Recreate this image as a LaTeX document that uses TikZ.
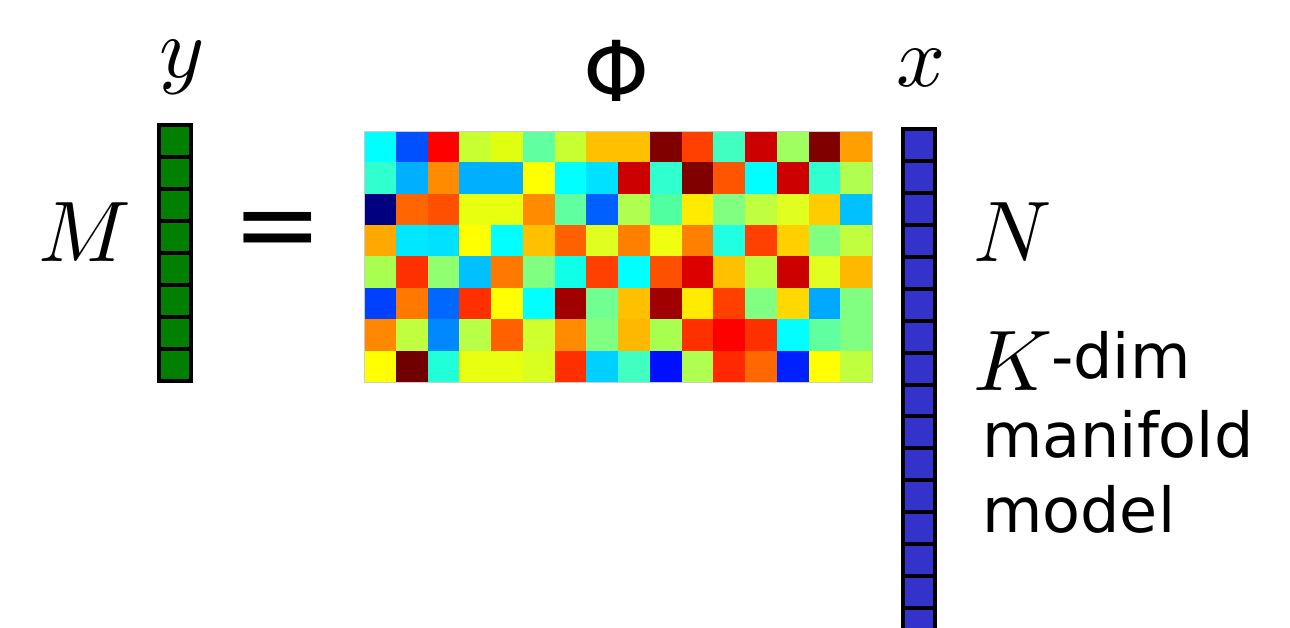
\documentclass[tikz,border=0pt]{standalone}
\usepackage{fontspec}
\newfontfamily\dejavu{DejaVu Sans}
\definecolor{vgreen}{HTML}{007F00}
\definecolor{vblue}{HTML}{3333CC}
\tikzset{
  mathlbl/.style={inner sep=0pt, anchor=base, font=\fontsize{10}{12}\selectfont, scale=8.6},
  sanslbl/.style={inner sep=0pt, anchor=base west, font=\dejavu\fontsize{62}{77}\selectfont},
  cellg/.style={draw=black, line width=4pt, fill=vgreen},
  cellb/.style={draw=black, line width=4pt, fill=vblue},
}
\begin{document}
\begin{tikzpicture}[x=1pt,y=-1pt]
\clip (0,0) rectangle (1290,628);
\fill[white] (0,0) rectangle (1290,628);
% measurement matrix Phi
\coordinate (phiNW) at (364,131);
\coordinate (phiSE) at (872,382);
\foreach \row [count=\r from 0] in {
 {00FFFF,0050FF,FF0000,C8FF30,E0FF10,60FFA0,C8FF30,FFC000,FFC000,800000,FF4000,40FFC0,CC0000,A0FF60,800000,FFA000},
 {30FFD0,00B0FF,FF8C00,00B0FF,00B0FF,FFFF00,00FFFF,00E0FF,CC0000,30FFD0,800000,FF5500,00FFFF,CC0000,30FFD0,B0FF50},
 {000080,FF6600,FF5000,E8FF10,E8FF10,FF8C00,60FFA0,0060FF,B0FF50,50FFA0,FFEB00,80FF80,C0FF40,E0FF20,FFCC00,00C0FF},
 {FFA800,00E8FF,00E0FF,FFFF00,00FFFF,FFC000,FF6000,E0FF20,FF8000,F0FF10,FF8000,20FFE0,FF4000,FFD000,80FF80,C0FF40},
 {A8FF50,FF3000,90FF70,00C0FF,FF7800,80FF80,10FFE8,FF4000,00FFFF,FF5000,DD0000,FFC000,B8FF40,CC0000,E0FF20,FFB800},
 {0040FF,FF7800,0068FF,FF3000,FFFF00,00FFFF,A00000,70FF90,FFC000,A00000,FFEB00,FF4000,80FF80,FFD800,00A8FF,80FF80},
 {FF8800,C0FF40,0088FF,B8FF48,FF6000,D0FF30,FF8C00,80FF80,FFB800,A8FF50,FF3000,FF0000,FF3000,00FFFF,60FFA0,80FF80},
 {FFFF00,700000,20FFD8,E8FF10,E8FF10,D8FF20,FF3000,00D0FF,40FFC0,0010FF,B0FF50,FF2800,FF6800,0020FF,FFFF00,C0FF40}} {
  \foreach \c [count=\k from 0] in \row {
    \definecolor{cc}{HTML}{\c}
    \fill[cc] (364+\k*31.75,131+\r*31.375) rectangle ++(32.1,31.7);
  }
}
\draw[black!20, line width=0.8pt] (phiNW) rectangle (phiSE);
% y vector
\foreach \i in {0,...,7} \draw[cellg] (159,125.3+\i*32) rectangle ++(32,32);
% x vector
\foreach \i in {0,...,15} \draw[cellb] (903,129.3+\i*31.9) rectangle ++(32,31.9);
% labels
\node[mathlbl] (ylbl) at (182,78) {$y$};
\node[mathlbl] (xlbl) at (921,87) {$x$};
\node[mathlbl] (Mlbl) at (85,262) {$M$};
\node[mathlbl] (Nlbl) at (1013,262) {$N$};
\node[inner sep=0pt, anchor=base, font=\dejavu\fontsize{84}{100}\selectfont] (philbl) at (617,102) {Φ};
\node[inner sep=0pt, font=\dejavu\fontsize{108}{120}\selectfont] (eqlbl) at (278,237) {=};
\node[mathlbl, anchor=base west] (Klbl) at (972,390) {$K$};
\node[sanslbl] (dimlbl) at (1051,378) {-dim};
\node[sanslbl] (manlbl) at (982,457) {manifold};
\node[sanslbl] (modlbl) at (982,532) {model};
\end{tikzpicture}
\end{document}
